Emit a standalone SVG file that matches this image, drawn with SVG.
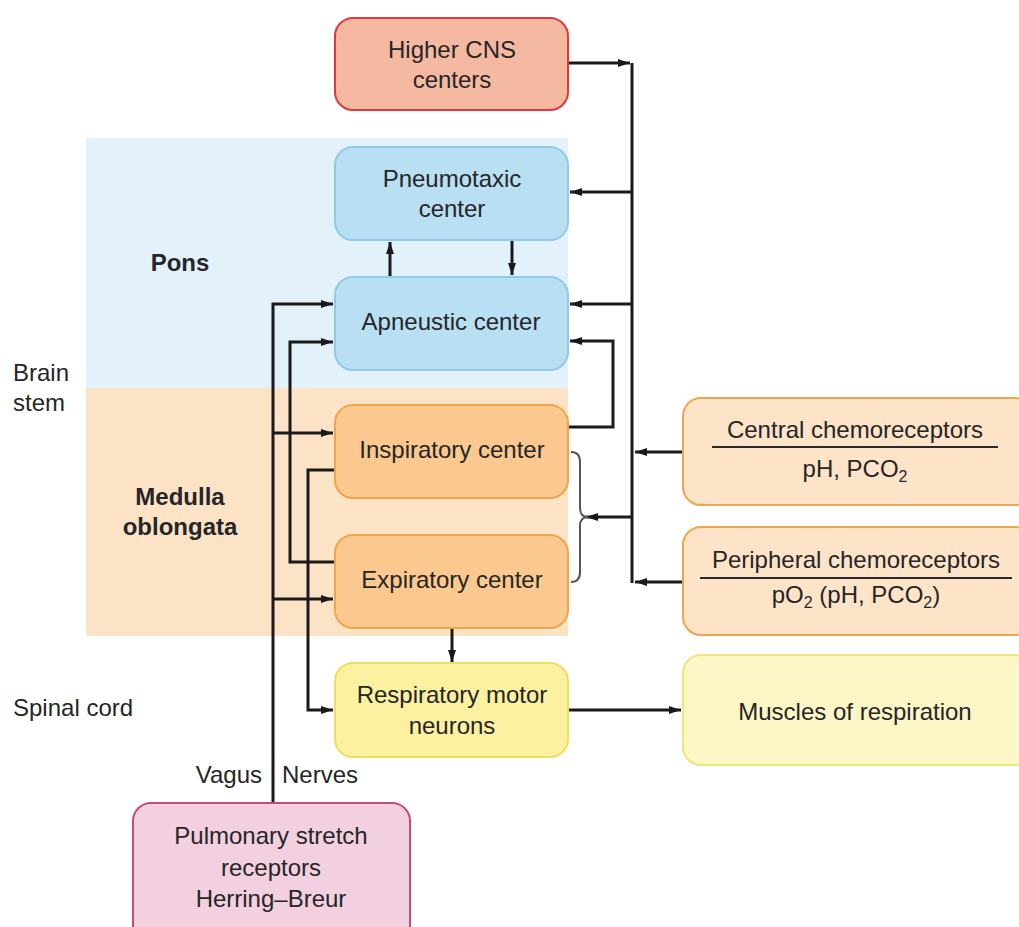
<svg xmlns="http://www.w3.org/2000/svg" width="1019" height="927" viewBox="0 0 1019 927">
<style>
text{font-family:"Liberation Sans",Arial,Helvetica,sans-serif;font-size:24px;fill:#262626}
.c{text-anchor:middle}
.b{font-weight:bold}
.ln{fill:none;stroke:#1a1a1a;stroke-width:3}
.ar{marker-end:url(#ah)}
.blue{fill:#b9dff3;stroke:#8fcae8;stroke-width:2}
.orng{fill:#fbc98f;stroke:#f0a54a;stroke-width:2}
.chem{fill:#fde3c8;stroke:#f0a54a;stroke-width:2}
.yel{fill:#fbf1a0;stroke:#efde5c;stroke-width:2}
.yel2{fill:#fdf6c6;stroke:#f2e37a;stroke-width:2}
</style>
<defs>
<marker id="ah" markerUnits="userSpaceOnUse" markerWidth="12" markerHeight="8" refX="12" refY="4" orient="auto">
<path d="M0,0 L12,4 L0,8 z" fill="#1a1a1a"/>
</marker>
</defs>
<rect width="1019" height="927" fill="#ffffff"/>
<g id="regions">
<rect x="86" y="138" width="482" height="250" fill="#e3f1fb"/>
<rect x="86" y="388" width="482" height="248" fill="#fce3c6"/>
<text x="180" y="271" class="c b">Pons</text>
<text x="180" y="505" class="c b">Medulla</text>
<text x="180" y="535" class="c b">oblongata</text>
<text x="13" y="381">Brain</text>
<text x="13" y="411">stem</text>
<text x="13" y="716">Spinal cord</text>
</g>
<g id="connectors">
<polyline class="ln ar" points="568,63 630,63"/>
<polyline class="ln" points="632,63 632,583"/>
<polyline class="ln ar" points="632,192 570,192"/>
<polyline class="ln ar" points="632,304 570,304"/>
<polyline class="ln ar" points="632,517 586,517"/>
<polyline class="ln ar" points="683,452 635,452"/>
<polyline class="ln ar" points="683,582 635,582"/>
<polyline class="ln ar" points="568,427 613,427 613,341 570,341"/>
<polyline class="ln ar" points="390,277 390,242"/>
<polyline class="ln ar" points="512,240 512,275"/>
<polyline class="ln ar" points="273,803 273,304 333,304"/>
<polyline class="ln ar" points="273,433 333,433"/>
<polyline class="ln ar" points="273,599 333,599"/>
<polyline class="ln ar" points="335,562 290,562 290,342 333,342"/>
<polyline class="ln ar" points="335,470 308,470 308,710 333,710"/>
<polyline class="ln ar" points="452,628 452,662"/>
<polyline class="ln ar" points="568,710 681,710"/>
<path d="M571,452 Q580,452 580,462 L580,508 Q580,517 588,517 Q580,517 580,526 L580,572 Q580,582 571,582" fill="none" stroke="#555" stroke-width="2"/>
</g>
<g id="higher-cns">
<rect x="335" y="18" width="233" height="92" rx="18" fill="#f5b9a2" stroke="#e0383e" stroke-width="2"/>
<text x="452" y="58" class="c">Higher CNS</text>
<text x="452" y="88" class="c">centers</text>
</g>
<g id="pneumotaxic">
<rect x="335" y="147" width="233" height="93" rx="18" class="blue"/>
<text x="452" y="187" class="c">Pneumotaxic</text>
<text x="452" y="217" class="c">center</text>
</g>
<g id="apneustic">
<rect x="335" y="277" width="233" height="93" rx="18" class="blue"/>
<text x="451" y="330" class="c">Apneustic center</text>
</g>
<g id="inspiratory">
<rect x="335" y="405" width="233" height="93" rx="18" class="orng"/>
<text x="452" y="458" class="c">Inspiratory center</text>
</g>
<g id="expiratory">
<rect x="335" y="535" width="233" height="93" rx="18" class="orng"/>
<text x="452" y="588" class="c">Expiratory center</text>
</g>
<g id="central-chemo">
<rect x="683" y="398" width="350" height="107" rx="18" class="chem"/>
<text x="855" y="438" class="c">Central chemoreceptors</text>
<line x1="712" y1="447" x2="998" y2="447" stroke="#2b2b2b" stroke-width="2"/>
<text x="855" y="477" class="c">pH, PCO<tspan dy="5" font-size="16">2</tspan></text>
</g>
<g id="peripheral-chemo">
<rect x="683" y="527" width="350" height="108" rx="18" class="chem"/>
<text x="856" y="568" class="c">Peripheral chemoreceptors</text>
<line x1="700" y1="578" x2="1012" y2="578" stroke="#2b2b2b" stroke-width="2"/>
<text x="856" y="603" class="c">pO<tspan dy="5" font-size="16">2</tspan><tspan dy="-5"> (pH, PCO</tspan><tspan dy="5" font-size="16">2</tspan><tspan dy="-5">)</tspan></text>
</g>
<g id="motor-neurons">
<rect x="335" y="663" width="233" height="94" rx="18" class="yel"/>
<text x="452" y="703" class="c">Respiratory motor</text>
<text x="452" y="734" class="c">neurons</text>
</g>
<g id="muscles">
<rect x="683" y="655" width="350" height="110" rx="18" class="yel2"/>
<text x="855" y="720" class="c">Muscles of respiration</text>
</g>
<g id="pulmonary">
<text x="262" y="783" text-anchor="end">Vagus</text>
<text x="282" y="783">Nerves</text>
<rect x="133" y="803" width="277" height="145" rx="18" fill="#f3d0e0" stroke="#c44c7c" stroke-width="2"/>
<text x="271" y="844" class="c">Pulmonary stretch</text>
<text x="271" y="876" class="c">receptors</text>
<text x="271" y="907" class="c">Herring–Breur</text>
</g>
</svg>
